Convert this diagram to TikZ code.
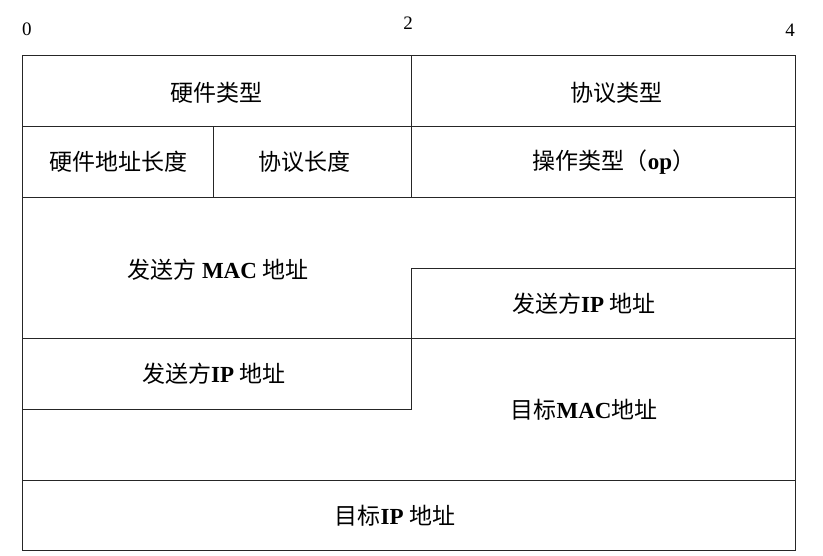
\documentclass[tikz,border=0pt]{standalone}
\usepackage{fontspec}
\setmainfont{Liberation Serif}
\newfontfamily\cjk{Noto Sans CJK SC}
\newcommand{\zh}[1]{{\cjk #1}}
\begin{document}
\begin{tikzpicture}[x=1pt,y=-1pt,
  lbl/.style={font=\fontsize{23}{26}\selectfont},
  num/.style={font=\fontsize{19}{20}\selectfont},
  ln/.style={line width=1pt,black!85}]
\useasboundingbox (0,0) rectangle (823,555);
\draw[ln] (22,55) rectangle (795,550);
\draw[ln] (22,126) -- (795,126);
\draw[ln] (22,197) -- (795,197);
\draw[ln] (22,338) -- (795,338);
\draw[ln] (22,480) -- (795,480);
\draw[ln] (411,55) -- (411,197);
\draw[ln] (213,126) -- (213,197);
\draw[ln] (795,268) -- (411,268) -- (411,409) -- (22,409);
\node[num] (n0) at (27,29) {0};
\node[num] (n2) at (408,23) {2};
\node[num] (n4) at (790,30) {4};
\node[lbl] (a) at (216,93) {\zh{硬件类型}};
\node[lbl] (b) at (616,93) {\zh{协议类型}};
\node[lbl] (c) at (118,162) {\zh{硬件地址长度}};
\node[lbl] (d) at (304,162) {\zh{协议长度}};
\node[lbl] (e) at (614,162) {\zh{操作类型（}\textbf{op}\zh{）}};
\node[lbl] (f) at (218,270) {\zh{发送方} \textbf{MAC} \zh{地址}};
\node[lbl] (g) at (584,304) {\zh{发送方}\textbf{IP} \zh{地址}};
\node[lbl] (h) at (214,374) {\zh{发送方}\textbf{IP} \zh{地址}};
\node[lbl] (i) at (584,410) {\zh{目标}\textbf{MAC}\zh{地址}};
\node[lbl] (j) at (395,516) {\zh{目标}\textbf{IP} \zh{地址}};
\end{tikzpicture}
\end{document}
